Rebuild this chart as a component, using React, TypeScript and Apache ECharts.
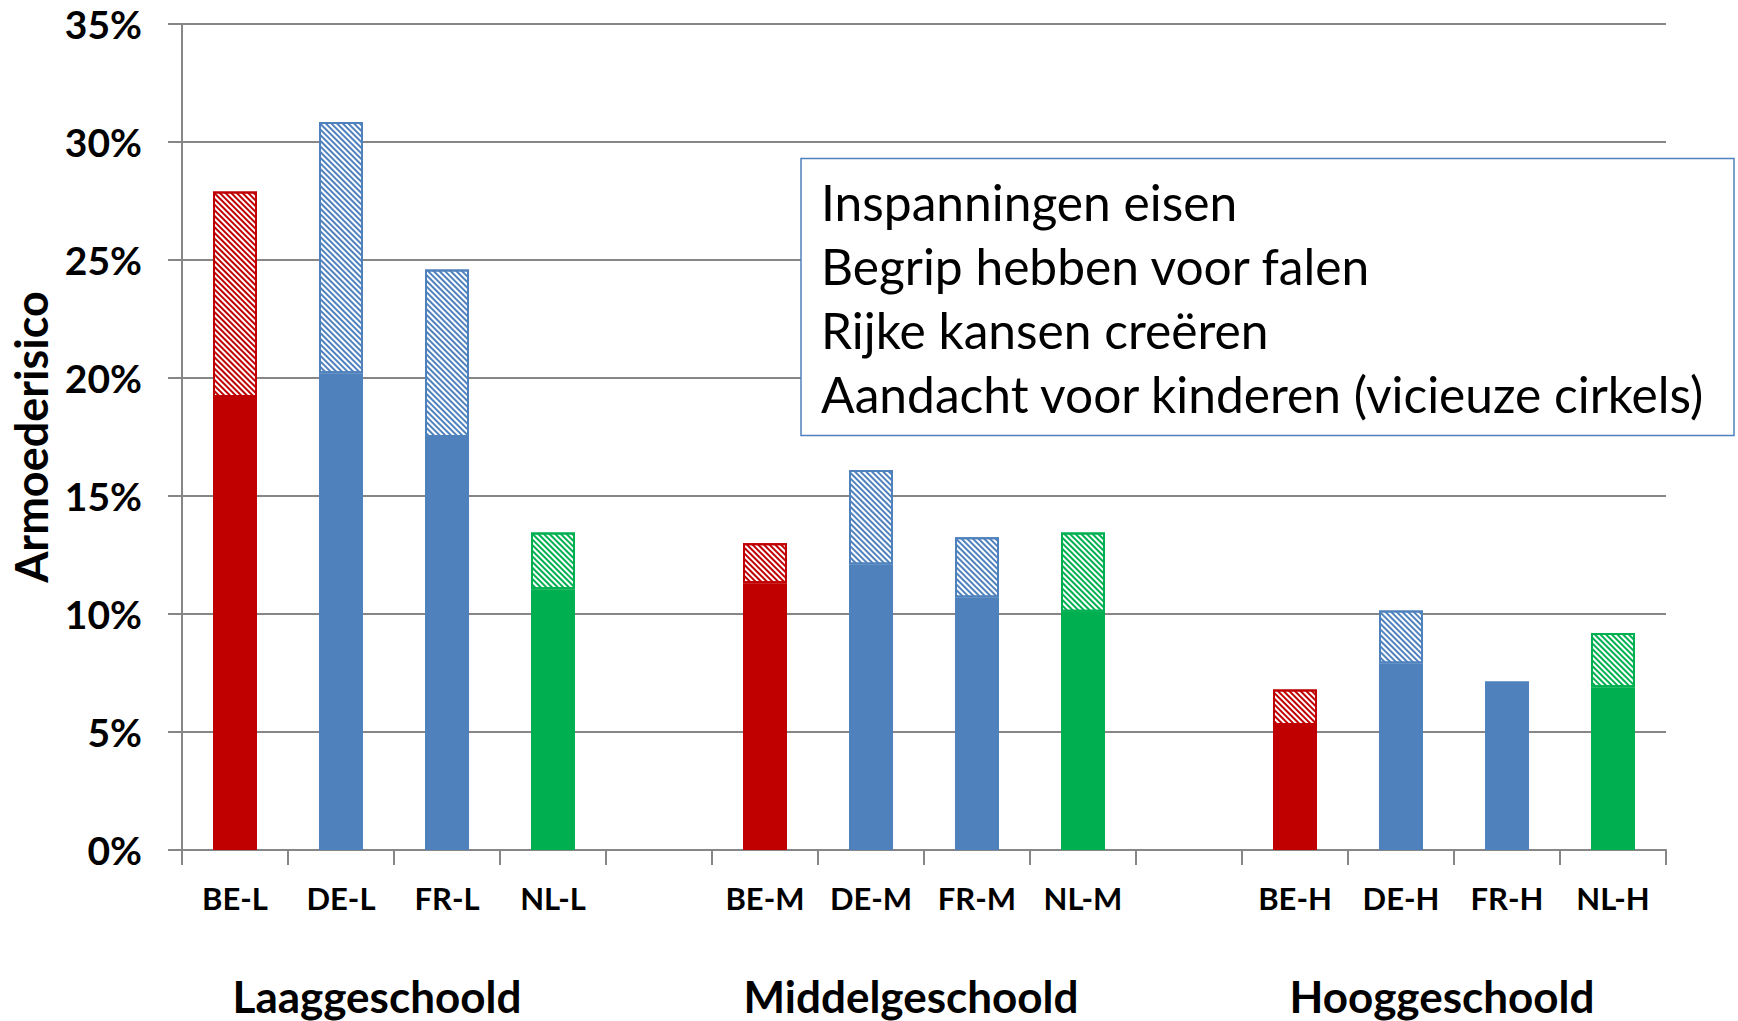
import React, { useEffect, useRef } from "react";
import * as echarts from "echarts";

const categories = ["BE-L", "DE-L", "FR-L", "NL-L", " ", "BE-M", "DE-M", "FR-M", "NL-M", "  ", "BE-H", "DE-H", "FR-H", "NL-H"];
const baseValues = [19.2, 20.2, 17.5, 11.05, null, 11.3, 12.1, 10.7, 10.1, null, 5.3, 7.9, 7.15, 6.9];
const totalValues = [27.9, 30.85, 24.6, 13.45, null, 13.0, 16.1, 13.25, 13.45, null, 6.8, 10.15, 7.15, 9.2];
const yTicks = [0, 5, 10, 15, 20, 25, 30, 35];
const groupTitles = ["Laaggeschoold", "Middelgeschoold", "Hooggeschoold"];
const legendLines = [
  "Inspanningen eisen",
  "Begrip hebben voor falen",
  "Rijke kansen creëren",
  "Aandacht voor kinderen (vicieuze cirkels)",
];
const countryColors: Record<string, string> = {
  BE: "#C00000",
  DE: "#4F81BD",
  FR: "#4F81BD",
  NL: "#00B050",
};

const FONT = "Lato, 'Open Sans', sans-serif";

export default function App() {
  const ref = useRef<HTMLDivElement>(null);
  useEffect(() => {
    if (!ref.current) return;
    const chart = echarts.init(ref.current, undefined, { renderer: "svg" });
    const colorOf = (c: string) => countryColors[c.slice(0, 2)] || "#000";

    const baseData = categories.map((c, i) =>
      baseValues[i] == null
        ? null
        : { value: baseValues[i], itemStyle: { color: colorOf(c) } }
    );
    const extraData = categories.map((c, i) => {
      const b = baseValues[i];
      const t = totalValues[i];
      if (b == null || t == null || t - b <= 0.001) return null;
      const col = colorOf(c);
      return {
        value: +(t - b).toFixed(3),
        itemStyle: {
          color: "#ffffff",
          borderColor: col,
          borderWidth: 2,
          decal: {
            symbol: "rect",
            symbolSize: 1,
            dashArrayX: [1, 0],
            dashArrayY: [1.2, 1.7],
            rotation: Math.PI / 4,
            color: col,
            backgroundColor: "#ffffff",
          },
        },
      };
    });

    const titleX = [377, 911, 1442];

    chart.setOption({
      animation: false,
      grid: {
        left: 182,
        right: 72,
        top: 24,
        bottom: 171,
        containLabel: false,
        outerBoundsMode: "none",
      },
      xAxis: {
        type: "category",
        data: categories,
        axisLine: { show: true, lineStyle: { color: "#868686", width: 2 } },
        axisTick: { show: true, length: 15, interval: 0, lineStyle: { color: "#868686", width: 2 } },
        axisLabel: {
          interval: 0,
          margin: 32,
          fontSize: 31,
          fontWeight: "bold",
          color: "#000",
          fontFamily: FONT,
        },
      },
      yAxis: {
        type: "value",
        min: yTicks[0],
        max: yTicks[yTicks.length - 1],
        interval: 5,
        name: "Armoederisico",
        nameLocation: "middle",
        nameRotate: 90,
        nameGap: 128,
        nameTextStyle: { fontSize: 45, fontWeight: "bold", color: "#000", fontFamily: FONT },
        axisLine: { show: true, lineStyle: { color: "#868686", width: 2 } },
        axisTick: { show: true, length: 14, lineStyle: { color: "#868686", width: 2 } },
        splitLine: { show: true, lineStyle: { color: "#868686", width: 2 } },
        axisLabel: {
          formatter: "{value}%",
          margin: 40,
          fontSize: 39,
          fontWeight: "bold",
          color: "#000",
          fontFamily: FONT,
        },
      },
      series: [
        {
          type: "bar",
          stack: "total",
          barWidth: 44,
          data: baseData,
          itemStyle: { borderWidth: 0 },
        },
        {
          type: "bar",
          stack: "total",
          barWidth: 44,
          data: extraData,
        },
      ],
      graphic: [
        ...groupTitles.map((t, i) => ({
          type: "text",
          x: titleX[i],
          y: 996,
          style: {
            text: t,
            fontSize: 44,
            fontWeight: "bold",
            fill: "#000",
            fontFamily: FONT,
            align: "center",
            verticalAlign: "middle",
          },
        })),
        {
          type: "rect",
          shape: { x: 801, y: 158.5, width: 933, height: 277 },
          style: { fill: "#fff", stroke: "#4F81BD", lineWidth: 1.5 },
          z: 10,
        },
        ...legendLines.map((t, i) => ({
          type: "text",
          x: 821,
          y: 201.5 + i * 64,
          z: 11,
          style: {
            text: t,
            fontSize: 49.7,
            fill: "#000",
            fontFamily: FONT,
            align: "left",
            verticalAlign: "middle",
          },
        })),
      ],
    });
    return () => chart.dispose();
  }, []);
  return (
    <div
      ref={ref}
      style={{ position: "absolute", left: 0, top: 0, width: 1738, height: 1021 }}
    />
  );
}
